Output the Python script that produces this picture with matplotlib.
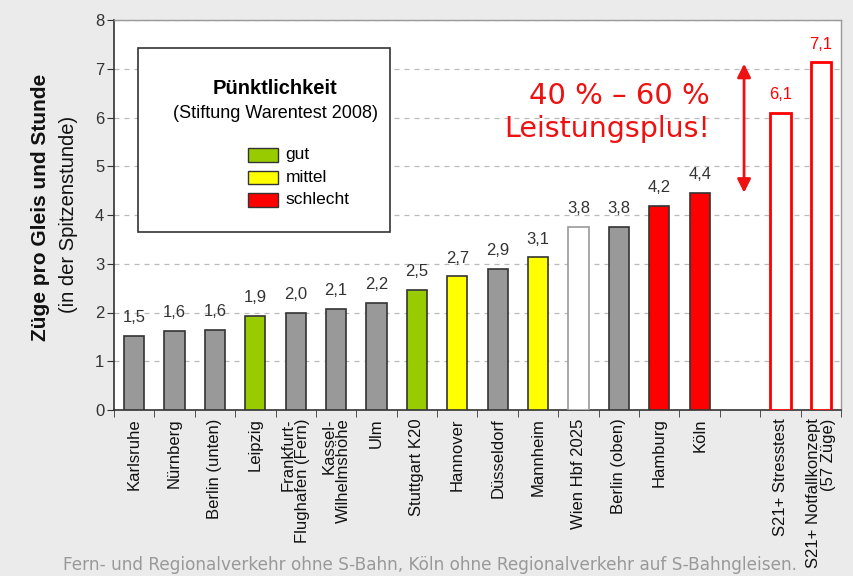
import matplotlib
matplotlib.use("Agg")
import matplotlib.pyplot as plt
from matplotlib.patches import Rectangle
import numpy as np

categories = ["Karlsruhe", "Nürnberg", "Berlin (unten)", "Leipzig", "Frankfurt-\nFlughafen (Fern)",
              "Kassel-\nWilhelmshöhe", "Ulm", "Stuttgart K20", "Hannover", "Düsseldorf", "Mannheim",
              "Wien Hbf 2025", "Berlin (oben)", "Hamburg", "Köln", "",
              "S21+ Stresstest", "S21+ Notfallkonzept\n(57 Züge)"]
values = [1.52, 1.63, 1.65, 1.93, 2.0, 2.08, 2.2, 2.47, 2.74, 2.9, 3.13, 3.76, 3.76, 4.18, 4.45, None, 6.1, 7.13]
value_labels = ["1,5", "1,6", "1,6", "1,9", "2,0", "2,1", "2,2", "2,5", "2,7", "2,9", "3,1",
                "3,8", "3,8", "4,2", "4,4", "", "6,1", "7,1"]
rating = ["none", "none", "none", "gut", "none", "none", "none", "gut", "mittel", "none", "mittel",
          "open", "none", "schlecht", "schlecht", "", "s21", "s21"]

face = {"none": "#999999", "gut": "#99cc00", "mittel": "#ffff00", "schlecht": "#ff0000",
        "open": "white", "s21": "white"}
edge = {"none": "#333333", "gut": "#333333", "mittel": "#333333", "schlecht": "#333333",
        "open": "#999999", "s21": "#ff0000"}

legend_labels = ["gut", "mittel", "schlecht"]

fig = plt.figure(figsize=(8.54, 5.76), dpi=100)
fig.patch.set_facecolor("#ebebeb")
ax = fig.add_axes([114/854, 1-410/576, 727/854, 390/576])
ax.set_facecolor("white")

x = np.arange(len(categories))
for i, (v, r) in enumerate(zip(values, rating)):
    if v is None:
        continue
    lw = 2.0 if r == "s21" else 1.2
    ax.bar(i, v, width=0.5, color=face[r], edgecolor=edge[r], linewidth=lw, zorder=3)
    col = "#ff0000" if r == "s21" else "#333333"
    ax.text(i, v + 0.22, value_labels[i], ha="center", va="bottom", fontsize=12,
            family="Liberation Sans", color=col)

ax.set_xlim(-0.5, len(categories) - 0.5)
ax.set_ylim(0, 8)
ax.set_yticks(range(0, 9))
ax.set_yticklabels([str(t) for t in range(0, 9)], family="Liberation Sans", fontsize=12, color="#333333")
ax.yaxis.grid(True, linestyle=(0, (4, 4)), color="#bbbbbb", linewidth=0.9, zorder=0)

ax.set_xticks(x)
ax.set_xticklabels(categories, rotation=90, family="Liberation Sans", fontsize=12,
                   color="#111111", va="top", ha="center", multialignment="right",
                   linespacing=0.95)
ax.tick_params(axis="x", which="major", length=0, pad=6)
ax.set_xticks(np.arange(-0.5, len(categories), 1.0), minor=True)
ax.tick_params(axis="x", which="minor", length=5, direction="out", color="#333333")
ax.tick_params(axis="y", length=5, direction="out", color="#333333", pad=2)

for s in ["left", "bottom"]:
    ax.spines[s].set_color("#333333")
    ax.spines[s].set_linewidth(1.2)
for s in ["top", "right"]:
    ax.spines[s].set_color("#999999")
    ax.spines[s].set_linewidth(1.0)

# y-axis labels
fig.text(41/854, 1-207/576, "Züge pro Gleis und Stunde", rotation=90, ha="center", va="center",
         family="Liberation Sans", fontweight="bold", fontsize=15, color="#111111")
fig.text(69/854, 1-214/576, "(in der Spitzenstunde)", rotation=90, ha="center", va="center",
         family="Liberation Sans", fontsize=14.5, color="#111111")

# legend box
ax.add_patch(Rectangle((0.033, 0.456), 0.347, 0.472, transform=ax.transAxes, facecolor="white",
                       edgecolor="#333333", linewidth=1.2, zorder=5))
ax.text(0.222, (410 - 89) / 390, "Pünktlichkeit", transform=ax.transAxes, ha="center", va="center",
        family="Liberation Sans", fontweight="bold", fontsize=14.5, zorder=6)
ax.text(0.222, (410 - 113) / 390, "(Stiftung Warentest 2008)", transform=ax.transAxes, ha="center",
        va="center", family="Liberation Sans", fontsize=13, zorder=6)
for k, lab in enumerate(legend_labels):
    yc = (410 - (155 + 22.5 * k)) / 390
    ax.add_patch(Rectangle((0.184, yc - 0.017), 0.041, 0.034, transform=ax.transAxes,
                           facecolor=face[lab], edgecolor="#333333", linewidth=1.0, zorder=6))
    ax.text(0.236, yc, lab, transform=ax.transAxes, ha="left", va="center",
            family="Liberation Sans", fontsize=12.5, zorder=6)

# red annotation
ax.text(14.25, 6.45, "40 % – 60 %", ha="right", va="center", fontsize=21, color="#ee1111", zorder=6)
ax.text(14.25, 5.77, "Leistungsplus!", ha="right", va="center", fontsize=20.5, color="#ee1111", zorder=6)
ax.annotate("", xy=(15.1, 7.16), xytext=(15.1, 4.4),
            arrowprops=dict(arrowstyle="<|-|>,head_length=0.8,head_width=0.4", color="#ee1111", lw=2.0),
            zorder=6)

# footer
fig.text(430/854, 1-565/576,
         "Fern- und Regionalverkehr ohne S-Bahn, Köln ohne Regionalverkehr auf S-Bahngleisen.",
         ha="center", va="center", fontsize=12.2, color="#999999", zorder=0)

fig.savefig("out.png", dpi=100, facecolor=fig.get_facecolor())
